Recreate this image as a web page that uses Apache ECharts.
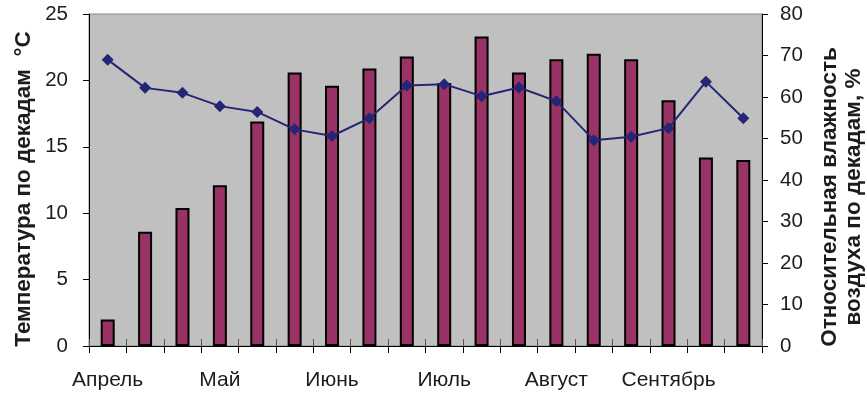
<!DOCTYPE html>
<html>
<head>
<meta charset="utf-8">
<script src="https://cdn.jsdelivr.net/npm/echarts@6/dist/echarts.min.js"></script>
<style>
  html, body { margin: 0; padding: 0; background: #fff; }
  #chart { width: 867px; height: 396px; }
</style>
</head>
<body>
<div id="chart"></div>
<script>
// Months of the season; each is split into three decades (10-day periods)
const months = ['Апрель', 'Май', 'Июнь', 'Июль', 'Август', 'Сентябрь'];
const decades = ['I', 'II', 'III'];

// Mean air temperature per decade, °C
const temperature = [2.0, 8.6, 10.4, 12.1, 16.9, 20.6, 19.6, 20.9, 21.8, 19.8, 23.3, 20.6, 21.6, 22.0, 21.6, 18.5, 14.2, 14.0];

// Mean relative air humidity per decade, %
const humidity = [69.0, 62.2, 61.0, 57.8, 56.4, 52.2, 50.6, 54.9, 62.8, 63.1, 60.2, 62.3, 59.0, 49.6, 50.4, 52.5, 63.7, 54.9];

// Axis scales
const tempTicks = { min: 0, max: 25, interval: 5 };
const humTicks = { min: 0, max: 80, interval: 10 };

// Axis titles
const tempTitle = 'Температура по декадам  °С';
const humTitle = 'Относительная влажность\nвоздуха по декадам, %';

const categories = [];
months.forEach(m => decades.forEach(d => categories.push(m + ' ' + d)));

const FONT = '"Liberation Sans", Arial, sans-serif';
const TEXT = '#1c1c1c';

const chart = echarts.init(document.getElementById('chart'), null, { renderer: 'canvas' });

chart.setOption({
  animation: false,
  backgroundColor: '#ffffff',
  grid: {
    left: 89, right: 105, top: 14, bottom: 50,
    show: true,
    backgroundColor: '#c0c0c0',
    borderColor: '#8a8a8a',
    borderWidth: 1
  },
  xAxis: [
    {
      type: 'category',
      data: categories,
      position: 'bottom',
      boundaryGap: true,
      axisLine: { show: true, lineStyle: { color: '#000', width: 1 } },
      axisTick: { show: true, interval: 0, length: 7, inside: false, lineStyle: { color: '#000' } },
      axisLabel: {
        interval: 2,
        margin: 24,
        fontFamily: FONT,
        fontSize: 21,
        color: TEXT,
        formatter: v => v.split(' ')[0]
      },
      splitLine: { show: false }
    },
    {
      // second copy of the category axis, drawing the inner half of the crossing ticks
      type: 'category',
      data: categories,
      position: 'bottom',
      boundaryGap: true,
      axisLine: { show: false },
      axisTick: { show: true, interval: 0, length: 7, inside: true, lineStyle: { color: '#555' } },
      axisLabel: { show: false },
      splitLine: { show: false }
    }
  ],
  yAxis: [
    {
      type: 'value',
      min: tempTicks.min, max: tempTicks.max, interval: tempTicks.interval,
      position: 'left',
      axisLine: { show: true, lineStyle: { color: '#000', width: 1 } },
      axisTick: { show: true, length: 6, lineStyle: { color: '#000' } },
      axisLabel: { margin: 21, fontFamily: FONT, fontSize: 20.5, color: TEXT },
      splitLine: { show: false }
    },
    {
      type: 'value',
      min: humTicks.min, max: humTicks.max, interval: humTicks.interval,
      position: 'right',
      axisLine: { show: true, lineStyle: { color: '#000', width: 1 } },
      axisTick: { show: true, length: 6, lineStyle: { color: '#000' } },
      axisLabel: { margin: 18, fontFamily: FONT, fontSize: 20.5, color: TEXT },
      splitLine: { show: false }
    }
  ],
  graphic: [
    {
      type: 'text',
      x: 24, y: 189,
      rotation: Math.PI / 2,
      style: {
        text: tempTitle,
        fontFamily: FONT, fontSize: 22.5, fontWeight: 'bold',
        fill: TEXT,
        align: 'center', verticalAlign: 'middle'
      }
    },
    {
      type: 'text',
      x: 842, y: 197,
      rotation: Math.PI / 2,
      style: {
        text: humTitle,
        fontFamily: FONT, fontSize: 22.5, fontWeight: 'bold',
        lineHeight: 24,
        fill: TEXT,
        align: 'center', verticalAlign: 'middle'
      }
    }
  ],
  series: [
    {
      name: 'Температура',
      type: 'bar',
      xAxisIndex: 0,
      yAxisIndex: 0,
      data: temperature,
      barWidth: 14,
      itemStyle: { color: '#993366', borderColor: '#000', borderWidth: 2 },
      z: 2
    },
    {
      name: 'Влажность',
      type: 'line',
      xAxisIndex: 0,
      yAxisIndex: 1,
      data: humidity,
      symbol: 'diamond',
      symbolSize: 12,
      lineStyle: { color: '#252577', width: 2 },
      itemStyle: { color: '#252577' },
      z: 3
    }
  ]
});
</script>
</body>
</html>
